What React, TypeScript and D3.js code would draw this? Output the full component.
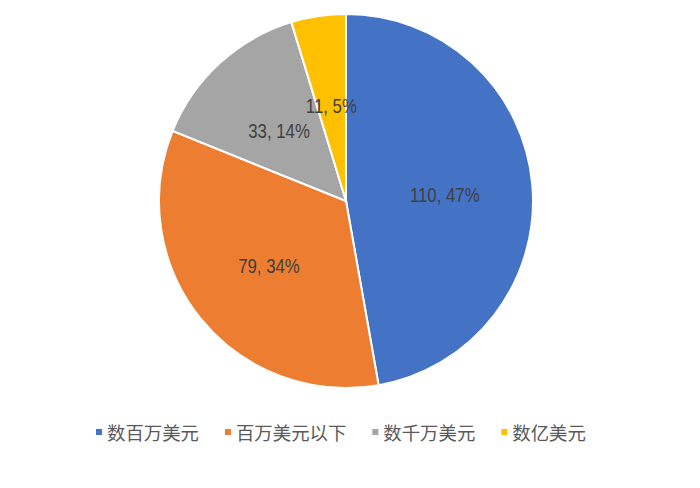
import React, { useEffect, useRef } from 'react';
import * as d3 from 'd3';

const categories = ['数百万美元', '百万美元以下', '数千万美元', '数亿美元'];
const values = [110, 79, 33, 11];
const percentLabels = ['47%', '34%', '14%', '5%'];
const colors = ['#4472C4', '#ED7D31', '#A5A5A5', '#FFC000'];

export default function App() {
  const svgRef = useRef<SVGSVGElement>(null);

  useEffect(() => {
    if (!svgRef.current) return;
    const width = 700;
    const height = 488;
    const cx = 346;
    const cy = 201;
    const r = 187;

    const svg = d3.select(svgRef.current);
    svg.selectAll('*').remove();
    svg.attr('width', width).attr('height', height);

    svg.append('rect').attr('width', width).attr('height', height).attr('fill', '#fff');

    const pie = d3.pie<number>().sort(null).value(d => d);
    const arcs = pie(values);
    const arc = d3.arc<d3.PieArcDatum<number>>().innerRadius(0).outerRadius(r);
    const labelArc = d3.arc<d3.PieArcDatum<number>>().innerRadius(r * 0.53).outerRadius(r * 0.53);

    const g = svg.append('g').attr('transform', `translate(${cx},${cy})`);

    g.selectAll('path')
      .data(arcs)
      .enter()
      .append('path')
      .attr('d', arc)
      .attr('fill', (_, i) => colors[i])
      .attr('stroke', '#fff')
      .attr('stroke-width', 2);

    // data labels, horizontally squeezed to mimic the narrow Office font
    g.selectAll('text.lbl')
      .data(arcs)
      .enter()
      .append('text')
      .attr('class', 'lbl')
      .attr('transform', d => {
        const [lx, ly] = labelArc.centroid(d);
        return `translate(${lx},${ly + 3}) scale(0.84,1)`;
      })
      .attr('text-anchor', 'middle')
      .attr('dominant-baseline', 'central')
      .attr('fill', '#404040')
      .style('font-family', '"Liberation Sans", Arial, sans-serif')
      .style('font-size', '20px')
      .text((d, i) => `${d.data}, ${percentLabels[i]}`);

    // Legend
    const fontSize = 18.4;
    const legendY = 432;
    const legend = svg.append('g');
    let x = 96;
    categories.forEach((c, i) => {
      legend.append('rect')
        .attr('x', x)
        .attr('y', legendY - 3)
        .attr('width', 6)
        .attr('height', 6)
        .attr('fill', colors[i]);
      const t = legend.append('text')
        .attr('x', x + 11)
        .attr('y', legendY)
        .attr('dominant-baseline', 'central')
        .attr('fill', '#595959')
        .style('font-family', '"Noto Sans CJK SC", sans-serif')
        .style('font-size', `${fontSize}px`)
        .text(c);
      const w = (t.node() as SVGTextElement).getComputedTextLength();
      x = x + 11 + w + 26;
    });
  }, []);

  return (
    <div style={{ width: 700, height: 488 }}>
      <svg ref={svgRef} style={{ display: 'block', position: 'absolute', left: 0, top: 0 }} />
    </div>
  );
}
